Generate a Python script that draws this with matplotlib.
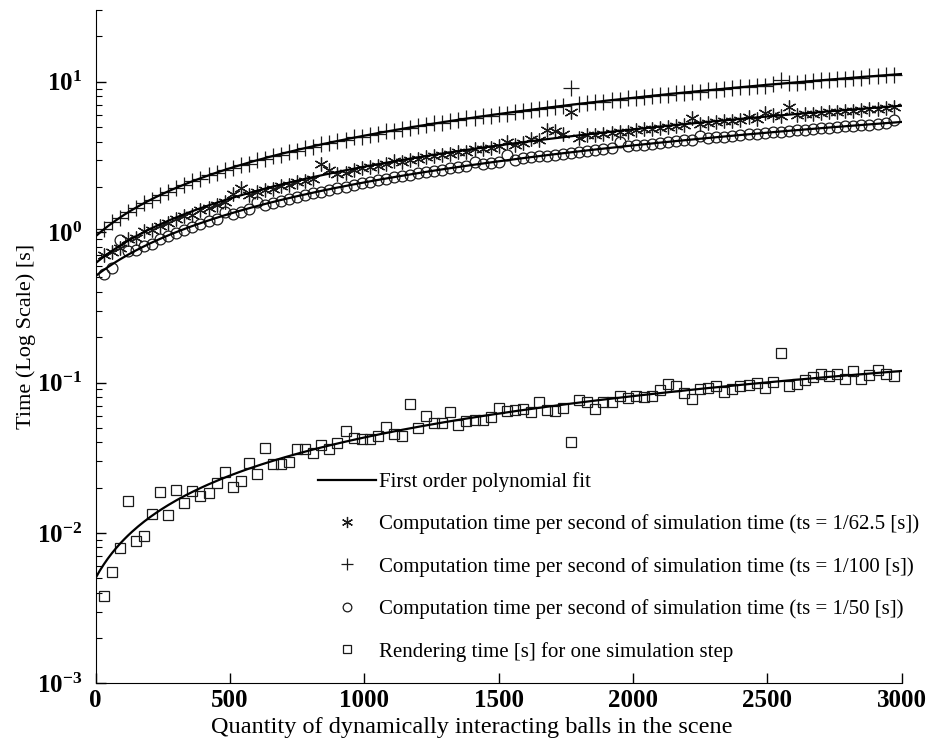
import matplotlib
matplotlib.use("Agg")
import matplotlib.pyplot as plt
from matplotlib.lines import Line2D
import numpy as np

plt.rcParams['font.family'] = ['Liberation Serif', 'DejaVu Serif']
plt.rcParams['mathtext.fontset'] = 'custom'
plt.rcParams['mathtext.rm'] = 'Liberation Serif'
plt.rcParams['mathtext.bf'] = 'Liberation Serif:bold'
plt.rcParams['axes.unicode_minus'] = False

# number of balls (x positions of the samples)
balls = list(range(30, 3000, 30))

# computation time per second of simulation time, ts = 1/100 s
t_100 = [1.05, 1.16, 1.25, 1.36, 1.45, 1.57, 1.64, 1.77, 1.84, 1.98,
         2.05, 2.18, 2.25, 2.39, 2.46, 2.60, 2.66, 2.80, 2.86, 3.01,
         3.07, 3.22, 3.27, 3.42, 3.48, 3.63, 3.68, 3.84, 3.89, 4.05,
         4.09, 4.26, 4.30, 4.45, 4.50, 4.67, 4.71, 4.87, 4.92, 5.08,
         5.12, 5.28, 5.33, 5.49, 5.53, 5.70, 5.74, 5.90, 5.94, 6.11,
         6.15, 6.31, 6.35, 6.52, 6.56, 6.72, 6.76, 6.93, 9.10, 7.13,
         7.17, 7.34, 7.38, 7.55, 7.59, 7.75, 7.79, 7.96, 8.00, 8.16,
         8.20, 8.37, 8.41, 8.58, 8.61, 8.79, 8.82, 8.99, 9.02, 9.20,
         9.23, 9.40, 9.43, 9.61, 10.20, 9.80, 9.85, 10.02, 10.05, 10.22,
         10.26, 10.43, 10.46, 10.63, 10.67, 10.84, 10.87, 11.05, 11.08]

# ts = 1/62.5 s
t_625 = [0.70, 0.74, 0.78, 0.90, 0.92, 1.02, 1.03, 1.10, 1.15, 1.22,
         1.28, 1.30, 1.40, 1.45, 1.52, 1.58, 1.80, 1.96, 1.76, 1.84,
         1.90, 1.95, 2.03, 2.05, 2.15, 2.18, 2.27, 2.85, 2.58, 2.45,
         2.48, 2.58, 2.66, 2.70, 2.74, 2.84, 2.96, 2.92, 3.02, 3.05,
         3.15, 3.20, 3.28, 3.30, 3.40, 3.42, 3.55, 3.58, 3.62, 3.72,
         3.95, 3.80, 3.90, 4.15, 4.08, 4.76, 4.69, 4.52, 6.30, 4.23,
         4.40, 4.45, 4.50, 4.58, 4.62, 4.66, 4.75, 4.82, 4.86, 4.95,
         5.00, 5.05, 5.15, 5.75, 5.25, 5.28, 5.36, 5.45, 5.50, 5.56,
         5.84, 5.66, 6.20, 5.99, 5.90, 6.81, 6.00, 6.06, 6.12, 6.22,
         6.26, 6.30, 6.40, 6.42, 6.50, 6.58, 6.62, 6.70, 6.80]

# ts = 1/50 s
t_50 = [0.53, 0.58, 0.88, 0.75, 0.76, 0.81, 0.84, 0.90, 0.94, 0.98,
        1.04, 1.08, 1.13, 1.19, 1.23, 1.36, 1.32, 1.37, 1.43, 1.58,
        1.52, 1.57, 1.62, 1.66, 1.72, 1.77, 1.81, 1.86, 1.92, 1.96,
        2.01, 2.06, 2.12, 2.16, 2.21, 2.26, 2.31, 2.35, 2.40, 2.46,
        2.50, 2.55, 2.60, 2.65, 2.70, 2.74, 2.93, 2.84, 2.88, 2.94,
        3.24, 3.04, 3.09, 3.14, 3.19, 3.23, 3.28, 3.33, 3.38, 3.43,
        3.48, 3.53, 3.57, 3.63, 3.95, 3.72, 3.77, 3.82, 3.87, 3.92,
        3.97, 4.02, 4.07, 4.12, 4.37, 4.21, 4.26, 4.31, 4.36, 4.41,
        4.46, 4.51, 4.56, 4.61, 4.66, 4.70, 4.75, 4.80, 4.85, 4.90,
        4.95, 5.00, 5.05, 5.10, 5.15, 5.19, 5.24, 5.30, 5.55]

# rendering time for one simulation step
t_render = [0.0038, 0.0055, 0.0079, 0.0163, 0.0089, 0.0095, 0.0134, 0.0188, 0.0131, 0.0192,
            0.0157, 0.0190, 0.0176, 0.0185, 0.0216, 0.0255, 0.0203, 0.0221, 0.0290, 0.0245,
            0.0369, 0.0288, 0.0286, 0.0297, 0.0363, 0.0363, 0.0338, 0.0382, 0.0363, 0.0394,
            0.0477, 0.0430, 0.0423, 0.0423, 0.0441, 0.0509, 0.0453, 0.0441, 0.0717, 0.0501,
            0.0600, 0.0541, 0.0541, 0.0637, 0.0520, 0.0555, 0.0564, 0.0564, 0.0593, 0.0675,
            0.0648, 0.0657, 0.0664, 0.0637, 0.0744, 0.0657, 0.0648, 0.0675, 0.0404, 0.0766,
            0.0744, 0.0668, 0.0744, 0.0744, 0.0815, 0.0790, 0.0815, 0.0802, 0.0815, 0.0894,
            0.0975, 0.0950, 0.0858, 0.0782, 0.0912, 0.0926, 0.0950, 0.0867, 0.0912, 0.0950,
            0.0960, 0.1000, 0.0926, 0.1010, 0.1580, 0.0950, 0.0975, 0.1040, 0.1080, 0.1136,
            0.1110, 0.1136, 0.1050, 0.1196, 0.1060, 0.1120, 0.1214, 0.1136, 0.1110]

x_ticks = [0, 500, 1000, 1500, 2000, 2500, 3000]
y_ticks = [1e-3, 1e-2, 1e-1, 1e0, 1e1]
y_exponents = [-3, -2, -1, 0, 1]

labels = ["First order polynomial fit",
          "Computation time per second of simulation time (ts = 1/62.5 [s])",
          "Computation time per second of simulation time (ts = 1/100 [s])",
          "Computation time per second of simulation time (ts = 1/50 [s])",
          "Rendering time [s] for one simulation step"]

fig = plt.figure(figsize=(9.33, 7.44), dpi=100)
ax = fig.add_axes([95.7 / 933, 1 - 683.3 / 744, (901.7 - 95.7) / 933, (683.3 - 10) / 744])

mk_col = '#1a1a1a'
asterisk = (6, 2, 0)
series = [(t_625, asterisk, 10.0), (t_100, '+', 11.0), (t_50, 'o', 7.8), (t_render, 's', 7.0)]
bx = np.array(balls, dtype=float)
for vals, mk, ms in series:
    ax.plot(bx, vals, linestyle='none', marker=mk, markersize=ms,
            markerfacecolor='none', markeredgecolor=mk_col, markeredgewidth=0.9)

xfit = np.linspace(0, 3000, 400)
for vals, mk, ms in series:
    coef = np.polyfit(bx, np.array(vals), 1)
    ax.plot(xfit, np.polyval(coef, xfit), color='black', linewidth=1.6)

ax.set_yscale('log')
ax.set_xlim(0, 3000)
ax.set_ylim(1e-3, 30)
ax.set_xticks(x_ticks)
ax.set_xticklabels([str(v) for v in x_ticks], fontweight='bold')
ax.set_yticks(y_ticks)
ax.set_yticklabels([r'$\mathbf{10^{%d}}$' % e for e in y_exponents])
ax.spines['top'].set_visible(False)
ax.spines['right'].set_visible(False)
ax.tick_params(axis='both', which='major', direction='in', length=7, width=1, labelsize=18)
ax.tick_params(axis='y', which='minor', direction='in', length=4, width=0.8, labelleft=False)
ax.tick_params(axis='y', which='major', pad=10)
ax.tick_params(axis='x', which='major', pad=4)

ax.set_xlabel("Quantity of dynamically interacting balls in the scene", fontsize=17.5)
ax.xaxis.set_label_coords((472 - 95.7) / 806, (683.3 - 717) / 673.3)
ax.set_ylabel("Time (Log Scale) [s]", fontsize=16)
ax.yaxis.set_label_coords((36 - 95.7) / 806, (683.3 - 336) / 673.3)

handles = [Line2D([], [], color='black', linewidth=1.6)]
for vals, mk, ms in series:
    handles.append(Line2D([], [], linestyle='none', marker=mk, markersize=ms * 0.8,
                          markerfacecolor='none', markeredgecolor=mk_col, markeredgewidth=0.9))
ax.legend(handles, labels, loc='upper left', bbox_to_anchor=(318 / 933, 1 - 472 / 744),
          bbox_transform=fig.transFigure, frameon=False, fontsize=15,
          handlelength=2.8, handletextpad=0.15, labelspacing=1.08, borderpad=0, borderaxespad=0)

fig.savefig("out.png", dpi=100)
